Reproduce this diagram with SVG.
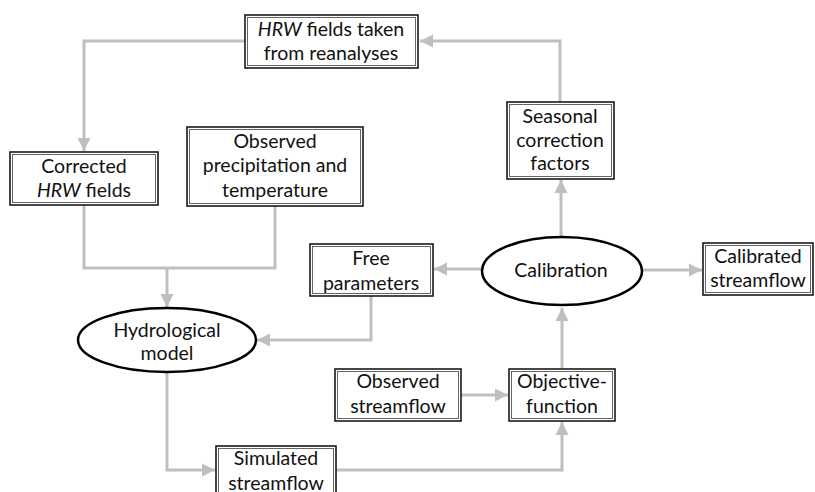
<svg xmlns="http://www.w3.org/2000/svg" width="815" height="492" viewBox="0 0 815 492">
<defs>
<marker id="arr" markerUnits="userSpaceOnUse" markerWidth="14" markerHeight="14" viewBox="0 0 14 14" refX="13" refY="7" orient="auto">
<path d="M0,0.5 L13,7 L0,13.5 z" fill="#bfbfbf"/>
</marker>
<style>
.conn{fill:none;stroke:#bfbfbf;stroke-width:3}
.box{fill:#fff;stroke:#1a1a1a;stroke-width:1.6}
.inner{fill:none;stroke:#555;stroke-width:0.9}
.ell{fill:#fff;stroke:#000;stroke-width:2.5}
text{font-family:Lato,"Liberation Sans",sans-serif;font-size:19.5px;fill:#111;text-anchor:middle}
.it{font-style:italic}
</style>
</defs>
<rect width="815" height="492" fill="#fff"/>
<g id="connectors">
<path class="conn" d="M560 102 V41 H420" marker-end="url(#arr)"/>
<path class="conn" d="M245 41 H84 V151" marker-end="url(#arr)"/>
<path class="conn" d="M84 205 V268 H275 V206"/>
<path class="conn" d="M167 268 V307" marker-end="url(#arr)"/>
<path class="conn" d="M371 296 V340 H257" marker-end="url(#arr)"/>
<path class="conn" d="M482 269 H434" marker-end="url(#arr)"/>
<path class="conn" d="M643 270 H702" marker-end="url(#arr)"/>
<path class="conn" d="M561 237 V180" marker-end="url(#arr)"/>
<path class="conn" d="M562 369 V308" marker-end="url(#arr)"/>
<path class="conn" d="M461 395 H508" marker-end="url(#arr)"/>
<path class="conn" d="M167 372 V470 H215" marker-end="url(#arr)"/>
<path class="conn" d="M336 470 H562 V422" marker-end="url(#arr)"/>
</g>
<g id="hrw">
<rect class="box" x="245" y="15" width="173" height="53"/>
<rect class="inner" x="247.5" y="17.5" width="168" height="48"/>
<text x="331" y="36"><tspan class="it">HRW</tspan> fields taken</text>
<text x="331" y="60">from reanalyses</text>
</g>
<g id="corrected">
<rect class="box" x="10" y="152" width="148" height="53"/>
<rect class="inner" x="12.5" y="154.5" width="143" height="48"/>
<text x="84" y="173">Corrected</text>
<text x="84" y="197"><tspan class="it">HRW</tspan> fields</text>
</g>
<g id="obsprecip">
<rect class="box" x="187" y="127" width="176" height="79"/>
<rect class="inner" x="189.5" y="129.5" width="171" height="74"/>
<text x="275" y="148">Observed</text>
<text x="275" y="172">precipitation and</text>
<text x="275" y="197">temperature</text>
</g>
<g id="seasonal">
<rect class="box" x="507" y="102" width="107" height="77"/>
<rect class="inner" x="509.5" y="104.5" width="102" height="72"/>
<text x="560" y="123">Seasonal</text>
<text x="560" y="147">correction</text>
<text x="560" y="170">factors</text>
</g>
<g id="freeparams">
<rect class="box" x="310" y="244" width="123" height="52"/>
<rect class="inner" x="312.5" y="246.5" width="118" height="47"/>
<text x="371" y="265">Free</text>
<text x="371" y="290">parameters</text>
</g>
<g id="calibration">
<ellipse class="ell" cx="562" cy="271" rx="80" ry="34"/>
<text x="561" y="277">Calibration</text>
</g>
<g id="calibrated">
<rect class="box" x="703" y="243" width="110" height="52"/>
<rect class="inner" x="705.5" y="245.5" width="105" height="47"/>
<text x="758" y="263">Calibrated</text>
<text x="758" y="287">streamflow</text>
</g>
<g id="hydro">
<ellipse class="ell" cx="167" cy="340" rx="89" ry="32"/>
<text x="167" y="337">Hydrological</text>
<text x="167" y="360">model</text>
</g>
<g id="obsstream">
<rect class="box" x="335" y="369" width="126" height="52"/>
<rect class="inner" x="337.5" y="371.5" width="121" height="47"/>
<text x="398" y="388">Observed</text>
<text x="398" y="413">streamflow</text>
</g>
<g id="objective">
<rect class="box" x="509" y="369" width="106" height="52"/>
<rect class="inner" x="511.5" y="371.5" width="101" height="47"/>
<text x="562" y="388">Objective-</text>
<text x="562" y="413">function</text>
</g>
<g id="simulated">
<rect class="box" x="216" y="446" width="120" height="60"/>
<rect class="inner" x="218.5" y="448.5" width="115" height="55"/>
<text x="276" y="465">Simulated</text>
<text x="276" y="490">streamflow</text>
</g>
</svg>
